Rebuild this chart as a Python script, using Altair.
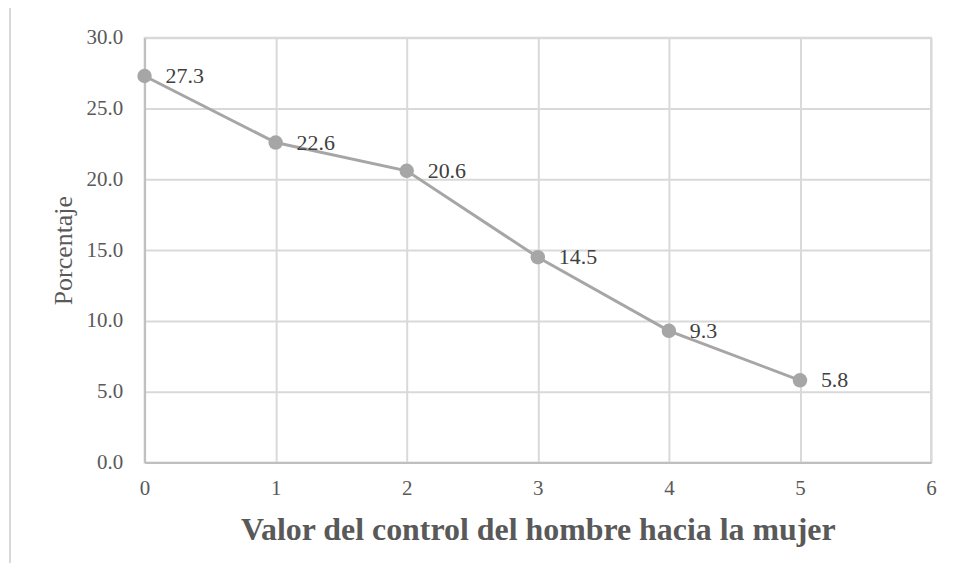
import altair as alt
import pandas as pd

x_vals = [0, 1, 2, 3, 4, 5]
y_vals = [27.3, 22.6, 20.6, 14.5, 9.3, 5.8]
labels = ["27.3", "22.6", "20.6", "14.5", "9.3", "5.8"]

df = pd.DataFrame({"x": x_vals, "y": y_vals, "label": labels})

FONT = "Liberation Serif"
LINE = "#a6a6a6"

xenc = alt.X("x:Q", scale=alt.Scale(domain=[0, 6], nice=False),
             axis=alt.Axis(title="Valor del control del hombre hacia la mujer",
                           values=[0, 1, 2, 3, 4, 5, 6], format="d",
                           titleFontSize=32, titleFontWeight="bold",
                           titlePadding=16, labelPadding=15))
yenc = alt.Y("y:Q", scale=alt.Scale(domain=[0, 30], nice=False),
             axis=alt.Axis(title="Porcentaje", values=[0, 5, 10, 15, 20, 25, 30],
                           format=".1f", titleFontSize=26, titleFontWeight="normal",
                           titlePadding=10, labelPadding=22))

border = alt.Chart(pd.DataFrame({"a": [0]})).mark_rect(
    fill=None, stroke="#d9d9d9", strokeWidth=2
).encode(x=alt.value(-135), x2=alt.value(900), y=alt.value(-31), y2=alt.value(700))

line = alt.Chart(df).mark_line(color=LINE, strokeWidth=3).encode(x=xenc, y=yenc)
pts = alt.Chart(df).mark_circle(color=LINE, size=210, opacity=1).encode(
    x=alt.X("x:Q"), y=alt.Y("y:Q"))
txt = alt.Chart(df).mark_text(align="left", baseline="middle", dx=21, dy=0,
                              font=FONT, fontSize=22, color="#404040").encode(
    x=alt.X("x:Q"), y=alt.Y("y:Q"), text="label:N")

chart = alt.layer(border, line, pts, txt).properties(
    width=789, height=426,
    autosize=alt.AutoSizeParams(type="none"),
    padding={"left": 137, "top": 29, "right": 20, "bottom": 100},
    background="white",
).configure_view(stroke="#d9d9d9", strokeWidth=2).configure_axis(
    titleFont=FONT, titleColor="#595959", labelFont=FONT, labelFontSize=21,
    labelColor="#595959", ticks=False, labelFlush=False,
    domainColor="#bfbfbf", domainWidth=2, gridColor="#d9d9d9", gridWidth=2
)

chart.save("out.html", embed_options={"renderer": "svg", "actions": False})
